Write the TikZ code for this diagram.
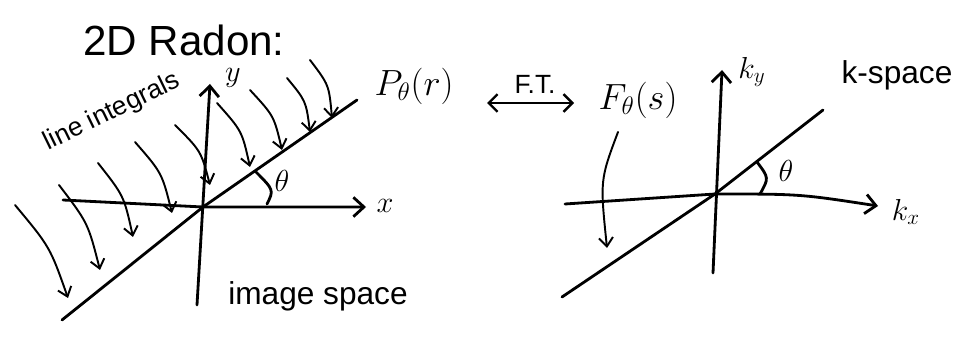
\documentclass[tikz,border=0pt]{standalone}
\usepackage{fontspec}
\setmainfont{Liberation Sans}
\usetikzlibrary{arrows.meta}
\begin{document}
\begin{tikzpicture}[x=0.02cm,y=-0.02cm,
  stroke/.style={line width=1.6pt, line cap=round, line join=round},
  axis/.style={stroke,-{Straight Barb[length=6pt,width=11pt,line width=1.6pt]}},
  ray/.style={line width=1.1pt, line cap=round, -{Straight Barb[length=5pt,width=8pt,line width=1.1pt]}},
  lbl/.style={inner sep=1pt, font=\fontsize{18}{20}\selectfont},
]
\useasboundingbox (0,0) rectangle (959,340);

% ---------- left: image space ----------
\node[lbl, font=\fontsize{24}{27}\selectfont] (title) at (184,40) {2D Radon:};

\coordinate (O1) at (203,207);
\coordinate (x1s) at (63,200);
\coordinate (x1e) at (366,207);
\coordinate (y1s) at (197,305);
\coordinate (y1e) at (210,84);
\coordinate (l1s) at (62,320);
\coordinate (l1e) at (357,100);

\draw[axis] (x1s) -- (O1) -- (x1e);
\draw[axis] (y1s) -- (y1e);
\draw[stroke] (l1s) -- (O1) -- (l1e);

\node[lbl] (xlab) at (385,206) {$x$};
\node[lbl] (ylab) at (233,78) {$y$};

\coordinate (t1a) at (267,204);
\coordinate (t1b) at (255,171);
\draw[stroke] (t1a) .. controls (274,190) .. (t1b);
\node[lbl] (th1) at (282,181) {$\theta$};

\node[lbl, font=\fontsize{21}{24}\selectfont] (P) at (414,86) {$P_\theta(r)$};

\node[lbl, font=\fontsize{15}{17}\selectfont, rotate=26] (li) at (112,112) {line integrals};

% line-integral rays
\coordinate (r1s) at (15,205);  \coordinate (r1e) at (68,298);
\coordinate (r2s) at (59,185);  \coordinate (r2e) at (100,270);
\coordinate (r3s) at (98,163);  \coordinate (r3e) at (133,237);
\coordinate (r4s) at (135,142); \coordinate (r4e) at (172,213);
\coordinate (r5s) at (175,125); \coordinate (r5e) at (210,185);
\coordinate (r6s) at (217,103); \coordinate (r6e) at (250,167);
\coordinate (r7s) at (250,90);  \coordinate (r7e) at (282,150);
\coordinate (r8s) at (287,78);  \coordinate (r8e) at (310,132);
\coordinate (r9s) at (310,60);  \coordinate (r9e) at (332,118);

\draw[ray] (r1s) .. controls (50,247) .. (r1e);
\draw[ray] (r2s) .. controls (88,223) .. (r2e);
\draw[ray] (r3s) .. controls (124,196) .. (r3e);
\draw[ray] (r4s) .. controls (162,173) .. (r4e);
\draw[ray] (r5s) .. controls (201,151) .. (r5e);
\draw[ray] (r6s) .. controls (242,131) .. (r6e);
\draw[ray] (r7s) .. controls (274,116) .. (r7e);
\draw[ray] (r8s) .. controls (306,101) .. (r8e);
\draw[ray] (r9s) .. controls (329,85) .. (r9e);

\node[lbl] (imsp) at (318,296) {image space};

% ---------- F.T. ----------
\coordinate (fta) at (487,103);
\coordinate (ftb) at (574,103);
\draw[stroke, {Straight Barb[length=5pt,width=10pt,line width=1.4pt]}-{Straight Barb[length=5pt,width=10pt,line width=1.4pt]}] (fta) -- (ftb);
\node[lbl, font=\fontsize{15}{17}\selectfont] (ft) at (535,84) {F.T.};

% ---------- right: k-space ----------
\node[lbl, font=\fontsize{21}{24}\selectfont] (F) at (638,100) {$F_\theta(s)$};
\coordinate (fs) at (618,132);
\coordinate (fe) at (607,248);
\draw[ray] (fs) .. controls (600,180) .. (fe);

\coordinate (O2) at (715,194);
\coordinate (x2s) at (565,204);
\coordinate (x2e) at (878,206);
\coordinate (y2s) at (713,273);
\coordinate (y2e) at (722,70);
\coordinate (l2s) at (562,297);
\coordinate (l2e) at (823,110);

\draw[axis] (x2s) .. controls (640,199) .. (O2) .. controls (800,194) .. (x2e);
\draw[axis] (y2s) -- (y2e);
\draw[stroke] (l2s) -- (O2) -- (l2e);

\node[lbl] (kx) at (906,212) {$k_x$};
\node[lbl] (ky) at (752,72) {$k_y$};

\coordinate (t2a) at (760,194);
\coordinate (t2b) at (757,162);
\draw[stroke] (t2a) .. controls (769,178) .. (t2b);
\node[lbl] (th2) at (786,171) {$\theta$};

\node[lbl] (ksp) at (897,75) {k-space};
\end{tikzpicture}
\end{document}
